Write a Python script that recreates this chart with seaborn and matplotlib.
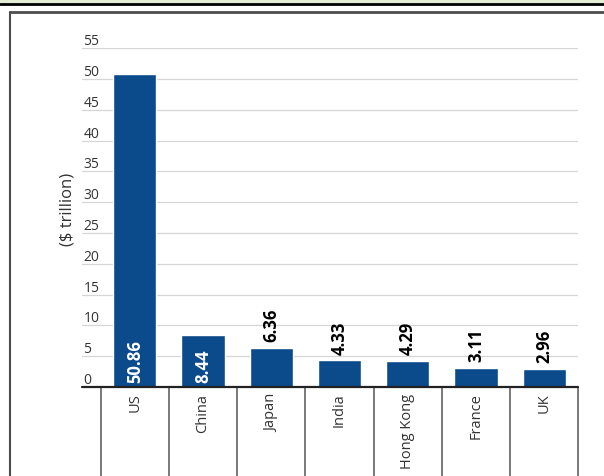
import matplotlib
matplotlib.use("Agg")
import matplotlib.pyplot as plt
from matplotlib.lines import Line2D
from matplotlib.patches import Rectangle
import seaborn as sns
import numpy as np

categories = ["US", "China", "Japan", "India", "Hong Kong", "France", "UK"]
values = [50.86, 8.44, 6.36, 4.33, 4.29, 3.11, 2.96]
value_labels = ["50.86", "8.44", "6.36", "4.33", "4.29", "3.11", "2.96"]
yticks = list(range(0, 60, 5))
ylabel = "($ trillion)"

sns.set_style("white")
plt.rcParams["font.family"] = ["Open Sans", "DejaVu Sans"]

BAR = "#0b4a8b"
TXT = "#333333"

W, H = 604, 477
fig = plt.figure(figsize=(W / 100, H / 100), dpi=100)
fig.patch.set_facecolor("white")

# frame decorations
fig.add_artist(Rectangle((0, 1 - 3.5 / H), 1, 3.5 / H, transform=fig.transFigure,
                         facecolor="#e3edd6", edgecolor="none"))
fig.add_artist(Line2D([0, 1], [1 - 5 / H, 1 - 5 / H], transform=fig.transFigure,
                      color="black", lw=2))
fig.add_artist(Line2D([10 / W, 1], [1 - 12.5 / H, 1 - 12.5 / H], transform=fig.transFigure,
                      color="#4d4d4d", lw=2))
fig.add_artist(Line2D([10 / W, 10 / W], [0, 1 - 12.5 / H], transform=fig.transFigure,
                      color="#4d4d4d", lw=1.5))

left, right = 82, 578.3
top, bottom = 49.3, 388
ax = fig.add_axes([left / W, 1 - bottom / H, (right - left) / W, (bottom - top) / H])
ax.set_facecolor("none")

sns.barplot(x=categories, y=values, color=BAR, width=0.634, saturation=1, ax=ax)

step = (right - 100.7) / 7
ax.set_xlim(-0.5 - (100.7 - left) / step, len(categories) - 0.5)
ax.set_ylim(0, 55)

for s in ax.spines.values():
    s.set_visible(False)

ax.set_yticks(yticks, labels=[str(t) for t in yticks], ha="left", va="bottom")
ax.tick_params(axis="y", length=0, pad=-1, labelsize=10, labelcolor=TXT)
ax.set_xticks(range(len(categories)), labels=categories, rotation=90, va="top", ha="center")
ax.tick_params(axis="x", length=0, pad=4, labelsize=10.5, labelcolor=TXT)
ax.set_xlabel("")
ax.set_ylabel(ylabel, fontsize=12, color=TXT)
ax.yaxis.set_label_coords(-7 / (right - left), (bottom - 209) / (bottom - top))

ax.grid(axis="y", color="#d6d6d6", lw=0.9)
ax.grid(axis="x", visible=False)
ax.set_axisbelow(True)
ax.axhline(0, color="#222222", lw=1.6, clip_on=False, zorder=5)

bounds = np.arange(len(categories) + 1) - 0.5
ax.vlines(bounds, 0, -(H - bottom) / (bottom - top), transform=ax.get_xaxis_transform(),
          color="#555555", lw=1.1, clip_on=False)

for i, (v, lab) in enumerate(zip(values, value_labels)):
    if v > 8:
        ax.text(i, 0.8, lab, rotation=90, ha="center", va="bottom", color="white",
                fontsize=12, fontweight="bold")
    else:
        ax.text(i, v + 1.1, lab, rotation=90, ha="center", va="bottom", color="black",
                fontsize=12, fontweight="bold")

fig.savefig("out.png", dpi=100)
